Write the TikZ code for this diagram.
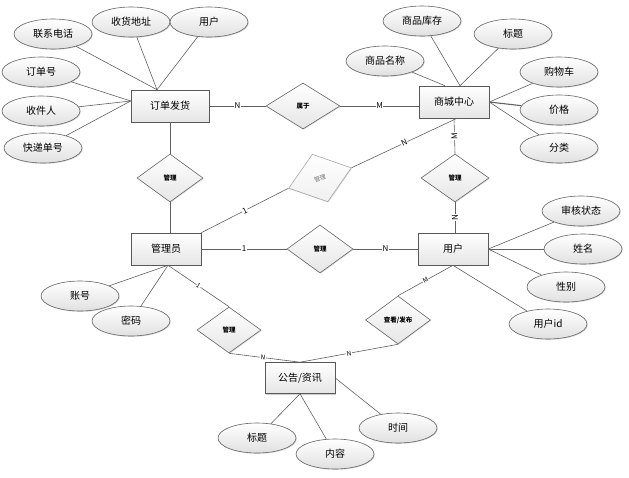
\documentclass[tikz,border=0pt]{standalone}
\usepackage{fontspec}
\setmainfont{Noto Sans CJK SC}
\usetikzlibrary{shapes.geometric,shadows,calc}
\begin{document}
\begin{tikzpicture}[x=1pt,y=-1pt,
  line/.style={draw=black!62, line width=0.6pt},
  ent/.style={rectangle, draw=black!65, line width=0.6pt, top color=white, bottom color=black!10,
    minimum width=70pt, minimum height=32pt, inner sep=0pt, font=\fontsize{10}{12}\selectfont,
    drop shadow={shadow xshift=1pt, shadow yshift=-1pt, fill=black!30, opacity=0.6}},
  attr/.style={ellipse, draw=black!60, line width=0.6pt, top color=white, bottom color=black!12,
    minimum width=78pt, minimum height=30pt, inner sep=0pt, font=\fontsize{10}{12}\selectfont,
    drop shadow={shadow xshift=0.8pt, shadow yshift=-0.8pt, fill=black!30, opacity=0.5}},
  rel/.style={diamond, draw=black!60, line width=0.6pt, top color=white, bottom color=black!10,
    minimum width=66pt, minimum height=48pt, inner sep=0pt, font=\bfseries\fontsize{6.5}{7}\selectfont,
    drop shadow={shadow xshift=0.8pt, shadow yshift=-0.8pt, fill=black!25, opacity=0.5}},
  greyrel/.style={rel, draw=black!35, bottom color=black!6, text=black!55, font=\fontsize{6}{7}\selectfont},
  lab/.style={fill=white, inner sep=0.6pt, font=\fontsize{8}{9}\selectfont},
  slab/.style={lab, sloped, font=\fontsize{6.5}{7}\selectfont}
]
\useasboundingbox[fill=white] (0,0) rectangle (629,477);

% entities
\node[ent, minimum width=78pt] (ddfh) at (170,106) {订单发货};
\node[ent] (sczx) at (454,102) {商城中心};
\node[ent] (gly) at (166,249) {管理员};
\node[ent] (yh) at (453,249) {用户};
\node[ent, minimum height=31pt] (gg) at (300,378) {公告/资讯};

% relations
\node[rel, minimum width=74pt, minimum height=46pt] (r1) at (303,106) {属于};
\node[rel] (r2) at (170,178) {管理};
\node[greyrel, rotate=18, minimum height=50pt] (r3) at (320,178) {管理};
\node[rel, minimum width=68pt] (r4) at (455,178) {管理};
\node[rel] (r5) at (320,249) {管理};
\node[rel, minimum width=64pt, minimum height=46pt] (r6) at (229,330) {管理};
\node[rel, minimum width=65pt] (r7) at (398,320) {查看/发布};

% attributes
\node[attr] (a1) at (53,34) {联系电话};
\node[attr] (a2) at (131,22) {收货地址};
\node[attr] (a3) at (209,22) {用户};
\node[attr] (a4) at (41,72) {订单号};
\node[attr] (a5) at (41,111) {收件人};
\node[attr] (a6) at (43,148) {快递单号};
\node[attr] (b1) at (422,21) {商品库存};
\node[attr] (b2) at (513,34) {标题};
\node[attr] (b3) at (385,61) {商品名称};
\node[attr] (b4) at (559,72) {购物车};
\node[attr] (b5) at (559,110) {价格};
\node[attr] (b6) at (559,148) {分类};
\node[attr] (c1) at (581,211) {审核状态};
\node[attr] (c2) at (583,249) {姓名};
\node[attr] (c3) at (566,287) {性别};
\node[attr] (c4) at (548,324) {用户id};
\node[attr] (d1) at (80,296) {账号};
\node[attr] (d2) at (131,321) {密码};
\node[attr] (e1) at (257,438) {标题};
\node[attr] (e2) at (335,454) {内容};
\node[attr] (e3) at (398,428) {时间};

% attachment points
\coordinate (ddT) at ($(ddfh.north)+(-13,0)$);
\coordinate (ddL) at ($(ddfh.west)+(0,-5)$);
\coordinate (scA) at ($(sczx.north)+(-9,0)$);
\coordinate (scB) at ($(sczx.north)+(6,0)$);
\coordinate (scS) at ($(sczx.south)+(3,0)$);
\coordinate (glyB) at ($(gly.south)+(2,0)$);

% attribute connectors
\draw[line] (a1) -- (ddT);
\draw[line] (a2) -- (ddT);
\draw[line] (a3) -- (ddT);
\draw[line] (a4) -- (ddL);
\draw[line] (a5) -- (ddL);
\draw[line] (a6) -- (ddL);
\draw[line] (b3) -- (scA);
\draw[line] (b1) -- (scB);
\draw[line] (b2) -- (scB);
\draw[line] (b4) -- (sczx.east);
\draw[line, line width=1.1pt] (b5) -- (sczx.east);
\draw[line] (b6) -- (sczx.east);
\draw[line] (c1) -- (yh.east);
\draw[line] (c2) -- (yh.east);
\draw[line] (c3) -- (yh.east);
\draw[line] (c4) -- (yh.south);
\draw[line] (d1) -- (glyB);
\draw[line] (d2) -- (glyB);
\draw[line] (e1) -- (gg.south);
\draw[line] (e2) -- (gg.south);
\draw[line] (e3) -- (gg.east);

% relationship connectors
\draw[line] (ddfh.east) -- node[lab]{N} (r1.west);
\draw[line] (r1.east) -- node[lab]{M} (r1.east -| sczx.west);
\draw[line] (ddfh.south) -- (r2.north);
\draw[line] (r2.south) -- (r2.south |- gly.north);
\draw[line] (gly.north east) -- node[lab, sloped]{1} (r3.west);
\draw[line] (r3.east) -- node[lab, sloped]{N} (scS);
\draw[line] (sczx.south) -- node[lab, rotate=90]{M} (r4.north);
\draw[line] (r4.south) -- node[lab, rotate=90]{N} (r4.south |- yh.north);
\draw[line] (gly.east) -- node[lab]{1} (r5.west);
\draw[line] (r5.east) -- node[lab]{N} (yh.west);
\draw[line] (glyB) -- node[slab]{1} (r6.north);
\draw[line] (r6.south) -- node[slab, pos=0.48]{N} (gg.north);
\draw[line] (yh.south) -- node[slab]{M} (r7.north);
\draw[line] (r7.south) -- node[slab]{N} (gg.north);
\end{tikzpicture}
\end{document}
